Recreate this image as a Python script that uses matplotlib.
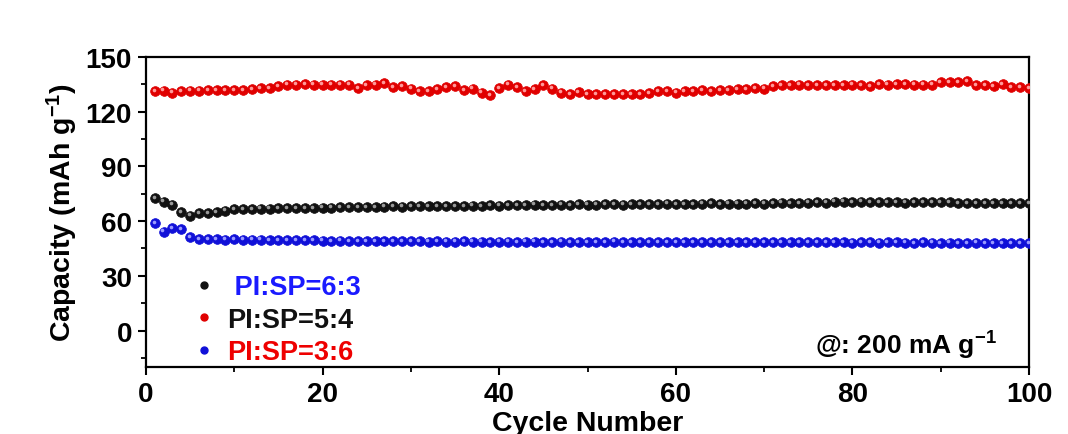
import numpy as np
import matplotlib
matplotlib.use("Agg")
import matplotlib.pyplot as plt
from matplotlib.lines import Line2D
from matplotlib.transforms import ScaledTranslation

plt.rcParams["font.family"] = ["Liberation Sans", "DejaVu Sans"]
plt.rcParams["font.weight"] = "bold"
plt.rcParams["mathtext.default"] = "regular"

cycles = list(range(1, 101))

# PI:SP = 6:3 (black)
cap_63 = [72.6, 70.6, 69.0, 64.8, 63.0, 64.2, 64.2, 64.8, 65.7, 66.6,
          66.6, 66.7, 66.9, 66.9, 67.1, 67.2, 67.3, 67.1, 67.3, 67.4,
          67.4, 67.5, 67.6, 67.8, 67.5, 67.8, 67.9, 68.4, 68.0, 68.1,
          68.1, 68.2, 68.3, 68.3, 68.4, 68.4, 68.5, 68.3, 68.7, 68.5,
          68.6, 68.7, 68.8, 69.1, 68.8, 68.7, 69.0, 68.9, 69.2, 69.0,
          69.1, 69.2, 69.3, 69.1, 69.3, 69.2, 69.4, 69.3, 69.6, 69.4,
          69.3, 69.4, 69.5, 69.7, 69.4, 69.5, 69.5, 69.6, 69.9, 69.6,
          69.7, 70.1, 69.8, 69.9, 70.2, 70.4, 70.1, 70.6, 70.7, 70.5,
          70.6, 70.5, 70.3, 70.4, 70.5, 70.1, 70.4, 70.5, 70.3, 70.5,
          70.3, 70.0, 70.0, 69.8, 69.9, 69.8, 69.7, 69.9, 69.8, 70.0]

# PI:SP = 5:4 (red)
cap_54 = [131.3, 131.5, 130.4, 131.3, 131.5, 131.5, 132.0, 131.9, 131.9, 131.7,
          132.0, 132.2, 133.1, 132.9, 134.0, 134.8, 134.8, 135.3, 134.8, 134.8,
          134.9, 134.9, 134.9, 133.1, 134.4, 134.9, 135.5, 133.5, 134.0, 132.6,
          131.1, 131.3, 132.4, 133.5, 134.0, 131.7, 132.6, 130.4, 128.9, 133.0,
          134.8, 133.5, 131.3, 132.2, 134.4, 132.6, 130.4, 129.8, 130.7, 129.8,
          129.8, 129.8, 129.8, 129.5, 129.8, 129.8, 130.2, 131.3, 131.3, 130.4,
          131.1, 131.3, 131.7, 131.3, 131.7, 131.7, 132.2, 132.2, 132.9, 132.6,
          134.0, 134.4, 134.4, 134.9, 134.4, 134.4, 134.4, 134.4, 134.4, 134.9,
          134.4, 134.0, 135.3, 134.9, 135.3, 135.3, 134.9, 134.9, 134.9, 136.2,
          136.2, 136.2, 136.6, 134.4, 134.4, 134.0, 135.3, 133.5, 133.5, 133.1]

# PI:SP = 3:6 (blue)
cap_36 = [58.7, 54.3, 56.0, 55.6, 51.1, 50.1, 50.2, 50.0, 49.9, 50.0,
          49.9, 49.8, 49.9, 49.7, 49.6, 49.7, 49.5, 49.4, 49.7, 49.3,
          49.2, 49.3, 49.1, 49.2, 49.1, 49.0, 49.2, 48.9, 49.0, 48.9,
          49.0, 48.8, 48.9, 48.7, 48.8, 48.9, 48.7, 48.8, 48.6, 48.8,
          48.7, 48.6, 48.8, 48.7, 48.6, 48.5, 48.7, 48.6, 48.5, 48.6,
          48.6, 48.5, 48.7, 48.4, 48.5, 48.6, 48.4, 48.5, 48.4, 48.6,
          48.5, 48.4, 48.5, 48.6, 48.3, 48.4, 48.5, 48.4, 48.6, 48.3,
          48.4, 48.5, 48.4, 48.3, 48.5, 48.6, 48.3, 48.4, 48.3, 48.2,
          48.4, 48.3, 48.2, 48.4, 48.3, 48.2, 48.1, 48.3, 48.2, 48.1,
          48.2, 48.1, 48.0, 48.2, 48.1, 48.0, 47.9, 48.1, 47.9, 47.8]

series = [
    ("PI:SP=6:3", cap_63, "#111111", "#9a9a9a", "#1a1aff"),
    ("PI:SP=5:4", cap_54, "#e00000", "#ff9a9a", "#111111"),
    ("PI:SP=3:6", cap_36, "#1010d8", "#9a9aff", "#ee0000"),
]

fig = plt.figure(figsize=(10.68, 4.35), dpi=100)
ax = fig.add_axes([146 / 1068, 1 - 368 / 435, 883 / 1068, 310 / 435])

# shaded sphere markers: solid ball plus a small offset highlight
hl = ScaledTranslation(-1.3 / 100, 1.3 / 100, fig.dpi_scale_trans)
handles = []
for label, vals, col, light, _ in series:
    ax.plot(cycles, vals, ls="none", marker="o", ms=7.0, mfc=col,
            mec=col, mew=0.5, zorder=3)
    ax.plot(cycles, vals, ls="none", marker="o", ms=2.6, mfc=light,
            mec="none", zorder=4, transform=ax.transData + hl)
    handles.append(Line2D([], [], ls="none", marker="o", ms=5.0,
                          mfc=col, mec=col))

ax.set_xlim(0, 100)
ax.set_ylim(-20, 150)
ax.set_xticks(range(0, 101, 20))
ax.set_xticks(range(10, 100, 20), minor=True)
ax.set_yticks(range(0, 151, 30))
ax.set_yticks(range(-15, 150, 30), minor=True)

for s in ax.spines.values():
    s.set_linewidth(1.6)
ax.tick_params(which="major", direction="out", length=6, width=1.5,
               labelsize=20, pad=4)
ax.tick_params(which="minor", direction="out", length=3.5, width=1.3)

ax.set_xlabel("Cycle Number", fontsize=20.5, fontweight="bold", labelpad=2)
ax.set_ylabel("Capacity (mAh g$^{-1}$)", fontsize=20.5, fontweight="bold",
              labelpad=4)

labels = [" " + series[0][0], series[1][0], series[2][0]]
leg = ax.legend(handles, labels, loc="upper left",
                bbox_to_anchor=(0.035, 0.36), frameon=False,
                fontsize=19.5, handlelength=0.6, handletextpad=0.55,
                labelspacing=0.24, borderpad=0.2)
for txt, s in zip(leg.get_texts(), series):
    txt.set_color(s[4])
    txt.set_fontweight("bold")

ax.text(0.964, 0.042, "@: 200 mA g$^{-1}$", transform=ax.transAxes,
        ha="right", va="baseline", fontsize=19, fontweight="bold")

fig.savefig("out.png", dpi=100, facecolor="white")
